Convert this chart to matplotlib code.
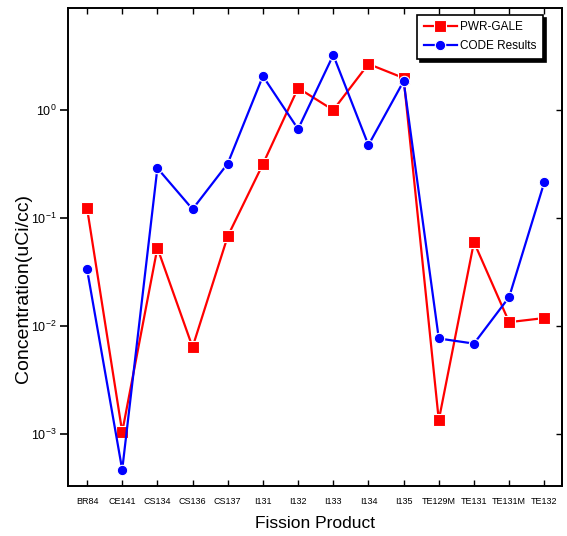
import matplotlib
matplotlib.use("Agg")
import matplotlib.pyplot as plt
import numpy as np
from matplotlib.ticker import FixedLocator, FuncFormatter, NullLocator

plt.rcParams["font.family"] = ["Liberation Sans", "DejaVu Sans"]
plt.rcParams["mathtext.fontset"] = "custom"
plt.rcParams["mathtext.rm"] = "Liberation Sans"

# fission products on the x axis
products = ["BR84", "CE141", "CS134", "CS136", "CS137", "I131", "I132",
            "I133", "I134", "I135", "TE129M", "TE131", "TE131M", "TE132"]

# concentrations in uCi/cc
pwr_gale = [0.124, 1.05e-3, 0.053, 6.4e-3, 0.068, 0.316, 1.60,
            1.00, 2.67, 1.98, 1.35e-3, 0.060, 0.0109, 0.0119]
code_results = [0.0337, 4.7e-4, 0.29, 0.121, 0.32, 2.06, 0.667,
                3.23, 0.474, 1.85, 7.7e-3, 6.9e-3, 0.0186, 0.215]

fig = plt.figure(figsize=(5.67, 5.36), dpi=100)
ax = fig.add_axes([0.120, 0.093, 0.871, 0.892])

x = np.arange(1, len(products) + 1)
ax.plot(x, pwr_gale, color="red", lw=1.6, marker="s", ms=8,
        mec="white", mew=0.8, label="PWR-GALE")
ax.plot(x, code_results, color="blue", lw=1.6, marker="o", ms=7.5,
        mec="white", mew=0.8, label="CODE Results")

ax.set_yscale("log")
ax.set_ylim(10 ** -3.48, 10 ** 0.944)
ax.set_xlim(0.46, 14.5)

ax.yaxis.set_major_locator(FixedLocator([1e-3, 1e-2, 1e-1, 1e0]))
ax.yaxis.set_minor_locator(NullLocator())
ax.yaxis.set_major_formatter(
    FuncFormatter(lambda v, p: r"$\mathregular{10^{%d}}$" % round(np.log10(v))))
ax.set_xticks(x)
ax.set_xticklabels(products)

ax.tick_params(axis="x", direction="in", top=True, length=4, width=1,
               labelsize=6.5, pad=8)
ax.tick_params(axis="y", direction="out", length=6, width=1.2,
               labelsize=9, pad=2, right=False)
for s in ax.spines.values():
    s.set_linewidth(1.4)

# inward mirror ticks on right side
ax2 = ax.secondary_yaxis("right")
ax2.set_yticks([1e-3, 1e-2, 1e-1, 1e0])
ax2.yaxis.set_minor_locator(NullLocator())
ax2.tick_params(direction="in", length=4, width=1, labelright=False)
ax2.spines["right"].set_linewidth(1.4)

ax.set_xlabel("Fission Product", fontsize=12.5, labelpad=7)
ax.set_ylabel("Concentration(uCi/cc)", fontsize=14, va="center")
ax.yaxis.set_label_coords(-0.091, 0.414)

leg = ax.legend(loc="upper right", bbox_to_anchor=(0.962, 0.986),
                fontsize=8.5, frameon=True, fancybox=False,
                shadow={"color": "black", "alpha": 1},
                edgecolor="black", borderpad=0.55, handlelength=2.8,
                labelspacing=0.6, handletextpad=0.3, borderaxespad=0)
leg.get_frame().set_linewidth(1.2)

fig.savefig("out.png", dpi=100)
